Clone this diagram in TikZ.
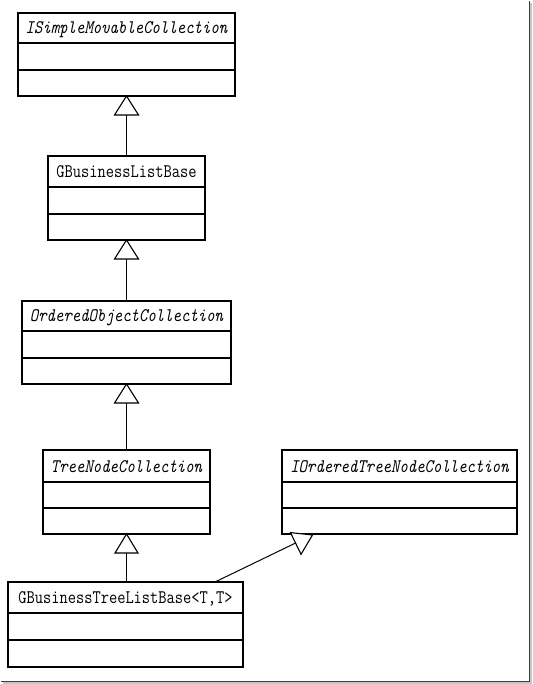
\documentclass[tikz,border=0pt]{standalone}
\usepackage{fontspec}
\usepackage{graphicx}
\setmonofont{Latin Modern Mono}
\begin{document}
\begin{tikzpicture}[x=1pt,y=-1pt,
  classbox/.style={draw=black, line width=1.8pt, rectangle, inner sep=0pt, outer sep=0pt, fill=white},
  divider/.style={line width=1.8pt, black},
  conn/.style={line width=1pt, black},
  gentri/.style={line width=1.1pt, black, fill=white, line join=miter},
  hdr/.style={anchor=base, inner sep=0pt, font=\fontsize{16}{16}\selectfont\ttfamily},
  ihdr/.style={hdr, font=\fontsize{16}{16}\selectfont\ttfamily\itshape}]
\useasboundingbox (0,0) rectangle (532,684);
% frame shadow
\fill[gray!45] (530.4,3) rectangle (532,684);
\fill[gray!45] (3,682.4) rectangle (532,684);
\draw[line width=1.2pt, black!75] (529.6,1) -- (529.6,681.6) -- (1,681.6);

% class 1
\node[classbox, minimum width=217pt, minimum height=83pt] (c1) at (126.5,54.5) {};
\draw[divider] (18,43) -- (235,43);
\draw[divider] (18,70) -- (235,70);
\node[ihdr] (c1t) at (126.5,34) {\scalebox{1}[1.2]{ISimpleMovableCollection}};

% class 2
\node[classbox, minimum width=157pt, minimum height=84pt] (c2) at (126.5,198) {};
\draw[divider] (48,187) -- (205,187);
\draw[divider] (48,214) -- (205,214);
\node[hdr] (c2t) at (126.5,177.5) {\scalebox{1}[1.2]{GBusinessListBase}};

% class 3
\node[classbox, minimum width=209pt, minimum height=83pt] (c3) at (126.5,342.5) {};
\draw[divider] (22,331) -- (231,331);
\draw[divider] (22,358) -- (231,358);
\node[ihdr] (c3t) at (126.5,321.5) {\scalebox{1}[1.2]{OrderedObjectCollection}};

% class 4
\node[classbox, minimum width=167pt, minimum height=84pt] (c4) at (126.5,492) {};
\draw[divider] (43,482) -- (210,482);
\draw[divider] (43,508) -- (210,508);
\node[ihdr] (c4t) at (126.5,472) {\scalebox{1}[1.2]{TreeNodeCollection}};

% class 5
\node[classbox, minimum width=235pt, minimum height=85pt] (c5) at (125.5,624.5) {};
\draw[divider] (8,613) -- (243,613);
\draw[divider] (8,640) -- (243,640);
\node[hdr] (c5t) at (125.5,603.6) {\scalebox{1}[1.2]{GBusinessTreeListBase<T,T>}};

% class 6
\node[classbox, minimum width=235pt, minimum height=84pt] (c6) at (399.5,492) {};
\draw[divider] (282,482) -- (517,482);
\draw[divider] (282,508) -- (517,508);
\node[ihdr] (c6t) at (399.5,472) {\scalebox{1}[1.2]{IOrderedTreeNodeCollection}};

% generalization c2 -> c1
\draw[conn] (c2.north) -- ([yshift=-19pt]c1.south);
\draw[gentri] (c1.south) -- ++(-12,19) -- ++(24,0) -- cycle;
% c3 -> c2
\draw[conn] (c3.north) -- ([yshift=-19pt]c2.south);
\draw[gentri] (c2.south) -- ++(-12,19) -- ++(24,0) -- cycle;
% c4 -> c3
\draw[conn] (c4.north) -- ([yshift=-19pt]c3.south);
\draw[gentri] (c3.south) -- ++(-12,19) -- ++(24,0) -- cycle;
% c5 -> c4
\draw[conn] (c4.south |- c5.north) -- ([yshift=-19pt]c4.south);
\draw[gentri] (c4.south) -- ++(-11.5,19) -- ++(23,0) -- cycle;
% c5 -> c6
\coordinate (s5) at (215,582);
\coordinate (t5) at (295.6,543);
\draw[conn] (s5) -- (t5);
\draw[gentri] (290.5,532.6) -- (312.5,535) -- (301,554.3) -- cycle;
\end{tikzpicture}
\end{document}
